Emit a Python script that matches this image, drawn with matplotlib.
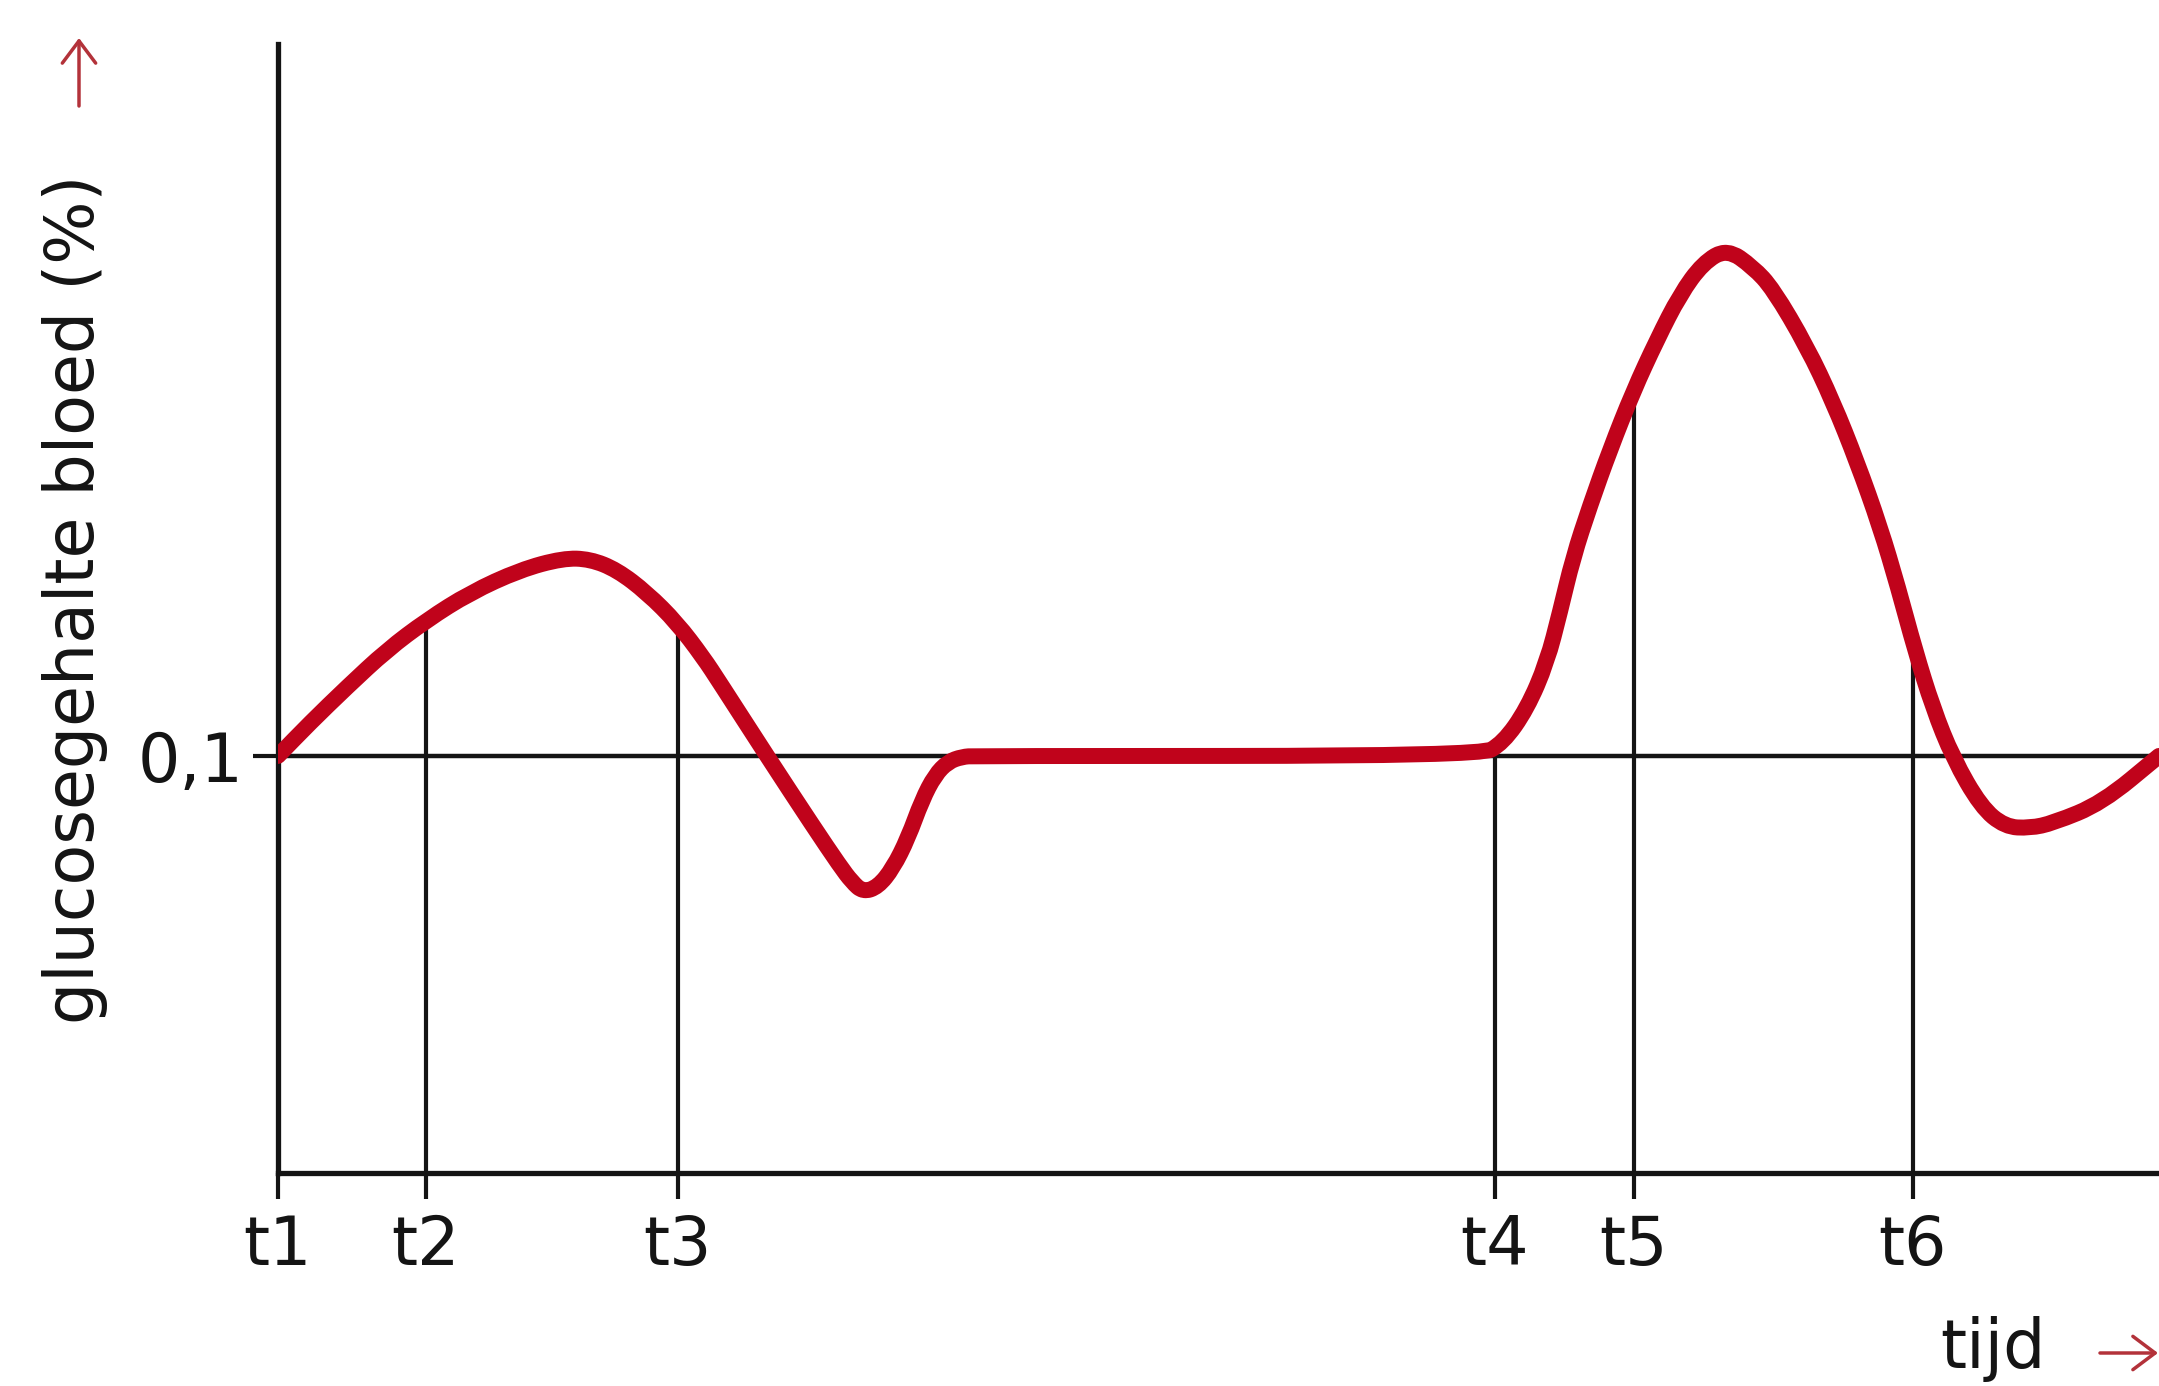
"""
Glucosegehalte van het bloed in de tijd (t1 t/m t6).
"""

import numpy as np
import matplotlib.pyplot as plt
from matplotlib.path import Path
from matplotlib.patches import PathPatch

# tijdstippen op de x-as (willekeurige tijdseenheden)
tijdstippen = [0.0, 14.8, 40.0, 121.7, 135.6, 163.5]
tijd_labels = ['t1', 't2', 't3', 't4', 't5', 't6']

# hoogte van de hulplijnen bij t2..t6 (waar ze de curve raken)
hulplijn_x = [14.8, 40.0, 121.7, 135.6, 163.5]
hulplijn_top = [0.1324, 0.1319, 0.1008, 0.1873, 0.1254]

# verloop van het glucosegehalte (%)
tijd = [0.0, 3.2, 6.9, 10.9, 14.9, 19.2, 24.2, 28.5, 31.2, 33.9, 36.9,
        39.9, 42.5, 44.2, 48.9, 53.5, 56.2, 57.4, 58.5, 60.0, 61.5, 63.0,
        64.4, 65.7, 67.0, 68.4, 69.7,
        120.2, 122.5, 124.9, 126.9, 128.2, 129.5, 131.2, 133.2, 135.5,
        137.9, 140.2, 142.5, 144.9, 147.5, 149.5, 152.9, 155.5, 157.9,
        160.2, 162.0, 163.7, 165.5, 167.5, 170.3, 172.7, 175.2, 177.5,
        182.4, 188.1]
glucose = [0.1000, 0.1079, 0.1165, 0.1254, 0.1326, 0.1391, 0.1446, 0.1474,
           0.1472, 0.1446, 0.1391, 0.1319, 0.1237, 0.1175, 0.1000, 0.0832,
           0.0736, 0.0698, 0.0674, 0.0686, 0.0731, 0.0803, 0.0894, 0.0954,
           0.0986, 0.0998, 0.1000,
           0.1000, 0.1031, 0.1113, 0.1225, 0.1345, 0.1475, 0.1600, 0.1734,
           0.1873, 0.1998, 0.2106, 0.2182, 0.2216, 0.2172, 0.2120, 0.1981,
           0.1849, 0.1705, 0.1550, 0.1405, 0.1254, 0.1115, 0.0995, 0.0878,
           0.0830, 0.0827, 0.0839, 0.0887, 0.1000]

referentie = 0.1

rood = '#c0031b'
pijl_rood = '#b3323a'
zwart = '#141414'

plt.rcParams['font.family'] = ['DejaVu Sans']

fig = plt.figure(figsize=(21.59, 13.86), dpi=100)
ax = fig.add_axes([0.12876, 0.15368, 0.87124, 0.81457])

ax.set_xlim(0, 188.1)
ax.set_ylim(0, 0.2707)

# hulplijnen
ax.axhline(referentie, color=zwart, lw=3.2, zorder=1)
ax.vlines(hulplijn_x, 0, hulplijn_top, color=zwart, lw=3.0, zorder=1)

punten = np.column_stack([tijd, glucose])
midden = (punten[:-1] + punten[1:]) / 2
verts = [punten[0], midden[0]]
codes = [Path.MOVETO, Path.LINETO]
for i in range(1, len(punten) - 1):
    verts += [punten[i], midden[i]]
    codes += [Path.CURVE3, Path.CURVE3]
verts.append(punten[-1])
codes.append(Path.LINETO)
curve = PathPatch(Path(verts, codes), facecolor='none', edgecolor=rood,
                  lw=11.5, capstyle='round', joinstyle='round', zorder=3)
ax.add_patch(curve)

for kant in ['top', 'right']:
    ax.spines[kant].set_visible(False)
for kant in ['left', 'bottom']:
    ax.spines[kant].set_linewidth(3.8)
    ax.spines[kant].set_color(zwart)

ax.set_xticks(tijdstippen)
ax.set_xticklabels(tijd_labels)
ax.set_yticks([referentie])
ax.set_yticklabels(['0,1'])
ax.tick_params(axis='x', direction='out', length=19, width=3.0, color=zwart,
               pad=10, labelsize=48, labelcolor=zwart)
ax.tick_params(axis='y', direction='out', length=18, width=3.0, color=zwart,
               pad=7, labelsize=48, labelcolor=zwart)

# aslabels
fig.text(75 / 2159, 1 - 599 / 1386, 'glucosegehalte bloed (%)', rotation=90,
         ha='center', va='center', fontsize=48, color=zwart)
fig.text(1940 / 2159, 1 - 1368 / 1386, 'tijd', ha='left', va='baseline',
         fontsize=48, color=zwart)

# rode pijlen
pijl = dict(arrowstyle='->,head_length=0.8,head_width=0.6',
            color=pijl_rood, lw=2.5, mutation_scale=20, shrinkA=0, shrinkB=0)
ax.annotate('', xy=(79, 1386 - 38), xytext=(79, 1386 - 106),
            xycoords='figure pixels', textcoords='figure pixels',
            annotation_clip=False, arrowprops=pijl)
ax.annotate('', xy=(2158, 1386 - 1353), xytext=(2100, 1386 - 1353),
            xycoords='figure pixels', textcoords='figure pixels',
            annotation_clip=False, arrowprops=pijl)

fig.savefig('out.png', dpi=100)
